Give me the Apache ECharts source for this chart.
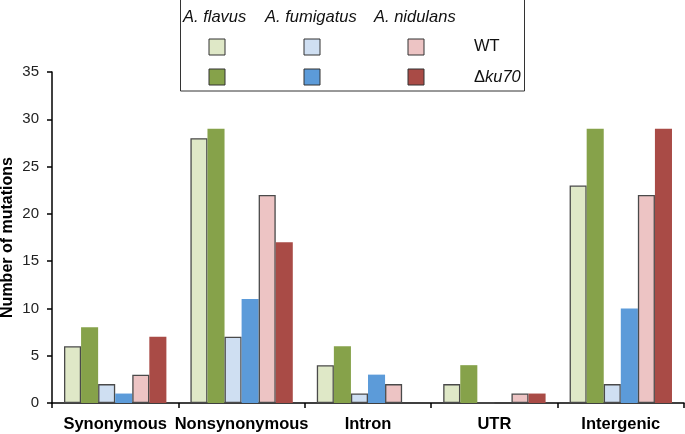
<!DOCTYPE html>
<html><head><meta charset="utf-8">
<script src="https://cdn.jsdelivr.net/npm/echarts@6/dist/echarts.min.js"></script>
<style>html,body{margin:0;padding:0;background:#fff}#c{width:685px;height:434px}</style>
</head><body><div id="c"></div>
<script>
const categories = ['Synonymous', 'Nonsynonymous', 'Intron', 'UTR', 'Intergenic'];
const flavusWT = [6, 28, 4, 2, 23];
const flavusKu = [8, 29, 6, 4, 29];
const fumigatusWT = [2, 7, 1, 0, 2];
const fumigatusKu = [1, 11, 3, 0, 10];
const nidulansWT = [3, 22, 2, 1, 22];
const nidulansKu = [7, 17, 0, 1, 29];
const yTicks = [0, 5, 10, 15, 20, 25, 30, 35];
const speciesNames = ['A. flavus', 'A. fumigatus', 'A. nidulans'];
const rowNames = ['WT', 'Δku70'];

const colors = {
  fWT: '#dfe8c7', fKu: '#86a24a',
  mWT: '#cfdff2', mKu: '#5c9bd9',
  nWT: '#edc4c4', nKu: '#a94b46'
};
const border = '#4a4a4a';
const FF = '"Liberation Sans", Arial, Helvetica, sans-serif';

function bar(name, data, color, wt) {
  return {
    name, type: 'bar', data,
    barGap: '0%', barCategoryGap: '19%',
    itemStyle: { color, borderColor: wt ? border : color, borderWidth: wt ? 1.3 : 0 }
  };
}

const chart = echarts.init(document.getElementById('c'), null, { renderer: 'canvas' });

const swatchX = [217, 312, 416];
const rowY = [47, 77];
const swatchColors = [[colors.fWT, colors.mWT, colors.nWT], [colors.fKu, colors.mKu, colors.nKu]];
const graphics = [
  { type: 'rect', shape: { x: 180.5, y: -2, width: 344, height: 93 }, style: { fill: '#fff', stroke: '#333', lineWidth: 1 } }
];
const labelX = [183, 265, 374];
speciesNames.forEach((s, i) => {
  graphics.push({ type: 'text', x: labelX[i], y: 17.5, style: { text: s, font: 'italic 16.5px ' + FF, fill: '#111', verticalAlign: 'middle' } });
});
for (let r = 0; r < 2; r++) {
  for (let c = 0; c < 3; c++) {
    graphics.push({ type: 'rect', shape: { x: swatchX[c] - 8, y: rowY[r] - 8, width: 16, height: 16 }, style: { fill: swatchColors[r][c], stroke: '#333', lineWidth: 1 } });
  }
}
graphics.push({ type: 'text', x: 474, y: 46.5, style: { text: rowNames[0], font: '16.5px ' + FF, fill: '#111', verticalAlign: 'middle' } });
graphics.push({ type: 'text', x: 474, y: 77, style: { rich: { a: { font: '16.5px ' + FF, fill: '#111' }, b: { font: 'italic 16.5px ' + FF, fill: '#111' } }, text: '{a|Δ}{b|ku70}', verticalAlign: 'middle' } });

chart.setOption({
  animation: false,
  grid: { left: 52, right: 1, top: 72, bottom: 31, containLabel: false, outerBoundsMode: 'none' },
  xAxis: {
    type: 'category', data: categories,
    axisLine: { lineStyle: { color: '#000', width: 1.5 } },
    axisTick: { show: true, length: 5, lineStyle: { color: '#000', width: 1.5 } },
    axisLabel: { color: '#000', fontWeight: 'bold', fontSize: 16.5, fontFamily: FF, margin: 13, interval: 0 }
  },
  yAxis: {
    type: 'value', min: 0, max: 35, interval: 5,
    name: 'Number of mutations', nameLocation: 'middle', nameGap: 36, nameMoveOverlap: false,
    nameTextStyle: { color: '#000', fontWeight: 'bold', fontSize: 16, fontFamily: FF },
    axisLine: { show: true, lineStyle: { color: '#000', width: 1.5 } },
    axisTick: { show: true, inside: false, length: 5, lineStyle: { color: '#000', width: 1.5 } },
    axisLabel: { color: '#222', fontSize: 15, fontFamily: FF, margin: 13, formatter: v => yTicks.includes(v) ? String(v) : '' },
    splitLine: { show: false }
  },
  series: [
    bar('A. flavus WT', flavusWT, colors.fWT, true),
    bar('A. flavus Δku70', flavusKu, colors.fKu, false),
    bar('A. fumigatus WT', fumigatusWT, colors.mWT, true),
    bar('A. fumigatus Δku70', fumigatusKu, colors.mKu, false),
    bar('A. nidulans WT', nidulansWT, colors.nWT, true),
    bar('A. nidulans Δku70', nidulansKu, colors.nKu, false)
  ],
  graphic: graphics
});
</script></body></html>
